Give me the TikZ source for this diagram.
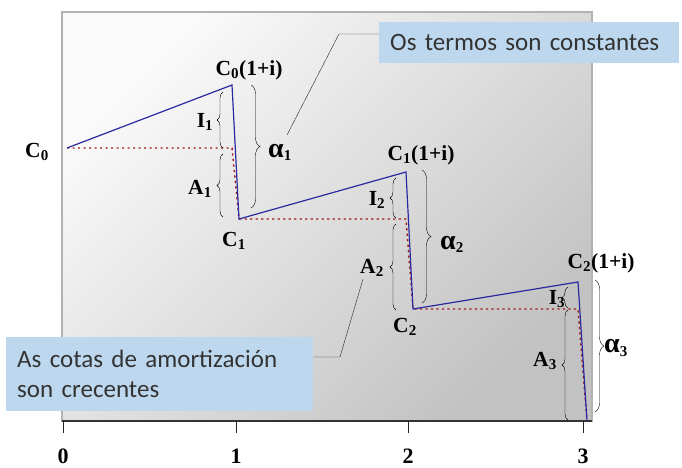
\documentclass[tikz,border=0pt]{standalone}
\usepackage{fontspec}
\setmainfont{Liberation Serif}
\newfontfamily\calibfont{Carlito}
\usetikzlibrary{positioning, calc, decorations.pathreplacing}
\definecolor{boxblue}{HTML}{BDD7EE}
\definecolor{linered}{HTML}{A01818}
\definecolor{lineblue}{HTML}{2A2AA0}
\newcommand\alp{{\fontsize{28}{28}\selectfont α}}

\begin{document}
\begin{tikzpicture}[
    x=1pt, y=-1pt,
    lbl/.style={font=\bfseries\fontsize{21.5}{23}\selectfont, inner sep=0pt},
    ticklbl/.style={font=\bfseries\fontsize{22}{24}\selectfont, inner sep=0pt},
    callout/.style={fill=boxblue, text=black!80, align=left, anchor=north west,
        font=\calibfont\fontsize{25}{30}\selectfont, inner xsep=11pt, inner ysep=0pt},
    smallbrace/.style={decorate, decoration={brace, amplitude=6pt}, thin},
    bigbrace/.style={decorate, decoration={brace, amplitude=9pt}, thin},
    leader/.style={thin, black!85},
    reddots/.style={draw=linered, line width=1.4pt, dash pattern=on 2.2pt off 3.3pt},
    curve/.style={draw=lineblue, line width=1.2pt}
]
\useasboundingbox (0,0) rectangle (682,468);
% Shaded frame and time axis
\shadedraw[top color=black!2, bottom color=black!24, shading angle=45, draw=black!30, line width=2pt]
    (62,12) rectangle (592,421);
\coordinate (ax0) at (62,421);
\coordinate (ax1) at (592,421);
\draw[line width=1.4pt, black!80] (ax0) -- (ax1);
\foreach \x/\n in {63/0, 236/1, 408/2, 583/3} {
    \coordinate (t\n) at (\x,421);
    \draw[thick, black!85] (t\n) -- ++(0,12);
    \node[ticklbl] (n\n) at (\x,456) {\n};
}
% Capital values
\coordinate (c0) at (67,148);
\coordinate (p1) at (232,85);
\coordinate (b1) at (239,219);
\coordinate (p2) at (406,172);
\coordinate (b2) at (413,309);
\coordinate (p3) at (578,282);
\coordinate (b3) at (587,421);
\coordinate (h1) at (p1 |- c0);
\coordinate (h2) at (p2 |- b1);
\coordinate (h3) at (p3 |- b2);
\draw[reddots] (c0) -- (h1) -- (b1) -- (h2) -- (b2) -- (h3) -- (b3);
\draw[curve] (c0) -- (p1) -- (b1) -- (p2) -- (b2) -- (p3) -- (b3);
% Braces
\draw[smallbrace] (223,148) -- (223,92);
\draw[smallbrace] (223,217) -- (223,154);
\draw[bigbrace] (251,85) -- (251,208);
\draw[smallbrace] (396,218) -- (396,178);
\draw[smallbrace] (396,310) -- (396,224);
\draw[bigbrace] (422,170) -- (422,303);
\draw[smallbrace] (568,308) -- (568,287);
\draw[smallbrace] (568,420) -- (568,310);
\draw[bigbrace] (595,280) -- (595,412);
% Labels
\node[lbl] (lc0) at (37,152) {C\textsubscript{0}};
\node[lbl] (lp1) at (249,70) {C\textsubscript{0}(1+i)};
\node[lbl] (li1) at (205,122) {I\textsubscript{1}};
\node[lbl] (la1) at (200,189) {A\textsubscript{1}};
\node[lbl] (lal1) at (280,152) {\alp\textsubscript{1}};
\node[lbl] (lc1) at (234,241) {C\textsubscript{1}};
\node[lbl] (lp2) at (421,155) {C\textsubscript{1}(1+i)};
\node[lbl] (li2) at (377,200) {I\textsubscript{2}};
\node[lbl] (la2) at (372,268) {A\textsubscript{2}};
\node[lbl] (lal2) at (452,244) {\alp\textsubscript{2}};
\node[lbl] (lc2) at (405,327) {C\textsubscript{2}};
\node[lbl] (lp3) at (601,263) {C\textsubscript{2}(1+i)};
\node[lbl] (li3) at (557,299) {I\textsubscript{3}};
\node[lbl] (la3) at (545,361) {A\textsubscript{3}};
\node[lbl] (lal3) at (616,348) {\alp\textsubscript{3}};
% Callouts
\node[callout, text width=278pt, minimum height=41pt] (constbox) at (379,22) {Os termos son constantes};
\node[callout, text width=285pt, minimum height=74pt] (cotasbox) at (6,337) {As cotas de amortización\\son crecentes};
\coordinate (k1) at (339,34);
\coordinate (e1) at (287,135);
\draw[leader] (constbox.west |- k1) -- (k1) -- (e1);
\coordinate (k2) at (340,357);
\coordinate (e2) at (363,279);
\draw[leader] (cotasbox.east |- k2) -- (k2) -- (e2);
\end{tikzpicture}
\end{document}
